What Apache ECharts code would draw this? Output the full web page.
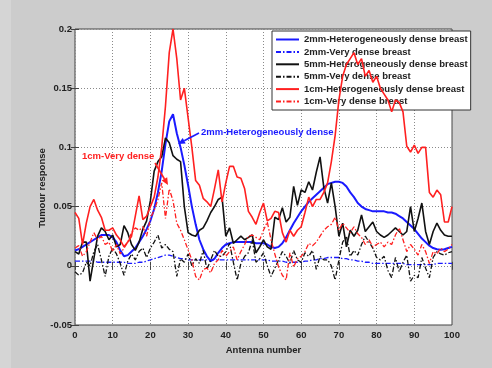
<!DOCTYPE html>
<html>
<head>
<meta charset="utf-8">
<script src="https://cdn.jsdelivr.net/npm/echarts@6/dist/echarts.min.js"></script>
<style>html,body{margin:0;padding:0;background:#cccccc;}#c{width:492px;height:368px;}</style>
</head>
<body>
<div id="c"></div>
<script>
// ---- data ----
const antenna = Array.from({length: 101}, (_, i) => i);
const xTicks = [0, 10, 20, 30, 40, 50, 60, 70, 80, 90, 100];
const yTicks = [-0.05, 0, 0.05, 0.1, 0.15, 0.2];
const seriesNames = [
  '2mm-Heterogeneously dense breast',
  '2mm-Very dense breast',
  '5mm-Heterogeneously dense breast',
  '5mm-Very dense breast',
  '1cm-Heterogeneously dense breast',
  '1cm-Very dense breast'
];
const het2mm = [
  0.013, 0.014, 0.016, 0.018, 0.020, 0.022, 0.024, 0.026, 0.026, 0.026,
  0.024, 0.020, 0.013, 0.008, 0.009, 0.012, 0.015, 0.020, 0.025, 0.031,
  0.038, 0.048, 0.062, 0.080, 0.103, 0.122, 0.128, 0.112, 0.100, 0.085,
  0.068, 0.050, 0.035, 0.022, 0.014, 0.008, 0.004, 0.006, 0.011, 0.015,
  0.018, 0.019, 0.020, 0.020, 0.020, 0.020, 0.020, 0.020, 0.019, 0.019,
  0.019, 0.018, 0.016, 0.015, 0.016, 0.019, 0.024, 0.030, 0.036, 0.041,
  0.046, 0.050, 0.054, 0.057, 0.060, 0.063, 0.066, 0.069, 0.070, 0.071,
  0.071, 0.070, 0.067, 0.062, 0.058, 0.053, 0.050, 0.048, 0.047, 0.046,
  0.046, 0.046, 0.046, 0.045, 0.045, 0.044, 0.042, 0.040, 0.037, 0.034,
  0.031, 0.027, 0.023, 0.020, 0.017, 0.015, 0.014, 0.0135, 0.014, 0.015,
  0.016
];
const vd2mm = [
  0.004, 0.004, 0.004, 0.004, 0.004, 0.004, 0.003, 0.003, 0.003, 0.003,
  0.003, 0.003, 0.003, 0.003, 0.002, 0.002, 0.002, 0.003, 0.003, 0.004,
  0.005, 0.006, 0.007, 0.008, 0.009, 0.009, 0.008, 0.007, 0.006, 0.006,
  0.005, 0.005, 0.005, 0.005, 0.005, 0.005, 0.005, 0.005, 0.005, 0.005,
  0.005, 0.005, 0.005, 0.005, 0.005, 0.005, 0.005, 0.005, 0.005, 0.005,
  0.005, 0.005, 0.004, 0.004, 0.004, 0.004, 0.003, 0.003, 0.003, 0.003,
  0.003, 0.004, 0.004, 0.005, 0.005, 0.006, 0.006, 0.007, 0.007, 0.007,
  0.007, 0.006, 0.006, 0.005, 0.005, 0.004, 0.004, 0.003, 0.003, 0.002,
  0.002, 0.002, 0.002, 0.002, 0.002, 0.002, 0.002, 0.002, 0.001, 0.001,
  0.001, 0.001, 0.001, 0.001, 0.001, 0.001, 0.002, 0.002, 0.002, 0.002,
  0.002
];
const het5mm = [
  0.012, 0.010, 0.020, 0.020, -0.013, 0.006, 0.025, 0.032, 0.029, 0.022,
  0.026, 0.016, 0.018, 0.034, 0.028, 0.018, 0.013, 0.020, 0.031, 0.038,
  0.055, 0.080, 0.088, 0.092, 0.108, 0.104, 0.093, 0.090, 0.088, 0.050,
  0.028, 0.026, 0.025, 0.030, 0.032, 0.038, 0.045, 0.050, 0.056, 0.058,
  0.025, 0.032, 0.019, 0.022, 0.025, 0.022, 0.024, 0.026, 0.011, 0.016,
  0.022, 0.016, 0.014, 0.041, 0.039, 0.049, 0.037, 0.041, 0.067, 0.051,
  0.064, 0.062, 0.071, 0.064, 0.079, 0.092, 0.066, 0.053, 0.070, 0.050,
  0.025, 0.036, 0.016, 0.030, 0.025, 0.030, 0.043, 0.029, 0.033, 0.037,
  0.029, 0.026, 0.024, 0.026, 0.029, 0.032, 0.029, 0.026, 0.029, 0.050,
  0.029, 0.040, 0.053, 0.029, 0.018, 0.029, 0.036, 0.030, 0.026, 0.025,
  0.025
];
const vd5mm = [
  -0.005, -0.008, -0.006, 0.003, 0.000, 0.012, 0.018, 0.005, -0.009, 0.008,
  0.015, 0.010, 0.002, -0.008, 0.004, 0.010, 0.005, 0.012, 0.015, 0.007,
  0.015, 0.020, 0.026, 0.015, 0.018, 0.014, 0.012, -0.009, 0.006, 0.003,
  0.010, 0.000, 0.006, 0.002, 0.013, -0.003, 0.005, 0.013, 0.008, 0.008,
  0.012, 0.019, 0.003, -0.012, 0.002, 0.008, 0.011, 0.022, 0.003, 0.006,
  0.011, 0.000, -0.009, -0.002, 0.005, 0.012, 0.008, 0.002, 0.013, 0.005,
  0.003, 0.011, 0.008, 0.013, -0.003, 0.008, 0.005, 0.005, 0.000, -0.012,
  0.005, 0.020, 0.025, 0.008, 0.013, 0.009, 0.018, 0.025, 0.020, 0.015,
  0.007, 0.005, 0.008, -0.004, -0.010, 0.007, -0.005, 0.003, 0.009, -0.013,
  -0.008, -0.010, 0.007, -0.002, -0.010, 0.007, 0.012, 0.010, 0.009, 0.011,
  0.012
];
const het1cm = [
  0.045, 0.040, 0.018, 0.036, 0.050, 0.056, 0.047, 0.041, 0.030, 0.030,
  0.032, 0.026, 0.022, 0.016, 0.020, 0.025, 0.042, 0.059, 0.039, 0.042,
  0.050, 0.058, 0.075, 0.100, 0.135, 0.180, 0.200, 0.175, 0.140, 0.150,
  0.125, 0.100, 0.072, 0.068, 0.057, 0.054, 0.050, 0.065, 0.081, 0.054,
  0.070, 0.084, 0.084, 0.075, 0.074, 0.065, 0.046, 0.041, 0.035, 0.045,
  0.053, 0.038, 0.040, 0.046, 0.045, 0.028, 0.020, 0.030, 0.025, 0.030,
  0.033, 0.045, 0.058, 0.050, 0.056, 0.056, 0.062, 0.070, 0.088, 0.110,
  0.140, 0.160, 0.170, 0.175, 0.180, 0.170, 0.175, 0.160, 0.165, 0.155,
  0.160, 0.150, 0.145, 0.140, 0.130, 0.140, 0.138, 0.130, 0.101, 0.096,
  0.102, 0.095, 0.100, 0.100, 0.062, 0.058, 0.064, 0.060, 0.037, 0.037,
  0.050
];
const vd1cm = [
  0.015, 0.017, 0.008, 0.012, 0.020, 0.028, 0.022, 0.025, 0.018, 0.020,
  0.012, 0.018, 0.010, 0.015, 0.020, 0.028, 0.032, 0.030, 0.033, 0.025,
  0.040, 0.047, 0.056, 0.070, 0.040, 0.065, 0.055, 0.036, 0.030, 0.022,
  0.0135, 0.005, -0.009, -0.012, -0.003, -0.002, -0.006, 0.002, 0.005, 0.013,
  0.008, 0.012, 0.016, 0.005, 0.012, 0.018, 0.025, 0.026, 0.024, 0.022,
  0.030, 0.037, 0.022, 0.010, -0.001, -0.008, -0.012, 0.011, -0.001, 0.006,
  0.008, 0.012, 0.019, 0.017, 0.020, 0.025, 0.030, 0.033, 0.035, 0.041,
  0.030, 0.036, 0.032, 0.028, 0.033, 0.027, 0.024, 0.018, 0.022, 0.016,
  0.018, 0.020, 0.016, 0.020, 0.018, 0.026, 0.032, 0.022, 0.012, 0.018,
  0.014, 0.009, 0.018, 0.012, 0.002, 0.012, 0.010, 0.015, 0.012, 0.014,
  0.018
];
const annotationTexts = ['1cm-Very dense', '2mm-Heterogeneously dense'];

// ---- chart ----
const FONT = 'Liberation Sans, Arial, sans-serif';
const chart = echarts.init(document.getElementById('c'), null, {renderer: 'canvas'});
const pairs = arr => antenna.map((a, i) => [a, arr[i]]);
const dashDot = [5, 2, 1.5, 2];
const seriesDefs = [
  {data: het2mm, color: '#1a1aff', width: 2, type: 'solid'},
  {data: vd2mm, color: '#1a1aff', width: 1.3, type: dashDot},
  {data: het5mm, color: '#111111', width: 1.6, type: 'solid'},
  {data: vd5mm, color: '#111111', width: 1.3, type: dashDot},
  {data: het1cm, color: '#ff2020', width: 1.6, type: 'solid'},
  {data: vd1cm, color: '#ff2020', width: 1.3, type: dashDot}
];
const axisTextStyle = {color: '#222', fontSize: 9.5, fontWeight: 'bold', fontFamily: FONT};

function arrow(x1, y1, x2, y2, color) {
  const dx = x2 - x1, dy = y2 - y1, L = Math.hypot(dx, dy);
  const ux = dx / L, uy = dy / L, hl = 7, hw = 3.2;
  const bx = x2 - ux * hl, by = y2 - uy * hl;
  return [
    {type: 'line', z: 10, shape: {x1: x1, y1: y1, x2: bx, y2: by}, style: {stroke: color, lineWidth: 1.6}},
    {type: 'polygon', z: 10, shape: {points: [[x2, y2], [bx - uy * hw, by + ux * hw], [bx + uy * hw, by - ux * hw]]}, style: {fill: color}}
  ];
}

const option = {
  backgroundColor: '#cccccc',
  animation: false,
  grid: {left: 75, right: 40, top: 29, bottom: 43, show: true, backgroundColor: '#ffffff', borderColor: '#444', borderWidth: 1, containLabel: false},
  legend: {
    orient: 'vertical', left: 272, top: 31,
    backgroundColor: '#ffffff', borderColor: '#333', borderWidth: 1, borderRadius: 0,
    padding: [3, 3, 3, 3], itemWidth: 23, itemHeight: 8, itemGap: 1.4,
    itemStyle: {opacity: 0},
    textStyle: {fontSize: 9.5, fontWeight: 'bold', color: '#222', fontFamily: FONT, lineHeight: 11},
    data: seriesNames
  },
  xAxis: [
    {type: 'value', min: 0, max: 100, interval: 10, position: 'bottom',
     name: 'Antenna number', nameLocation: 'middle', nameGap: 10,
     nameTextStyle: axisTextStyle,
     axisLine: {show: false}, axisTick: {show: true, inside: true, length: 4, lineStyle: {color: '#444'}},
     axisLabel: Object.assign({margin: 5, formatter: v => xTicks.includes(v) ? String(v) : ''}, axisTextStyle),
     splitLine: {show: true, lineStyle: {color: '#8a8a8a', type: [1, 2], width: 1}}},
    {type: 'value', min: 0, max: 100, interval: 10, position: 'top',
     axisLine: {show: false}, axisTick: {show: true, inside: true, length: 4, lineStyle: {color: '#444'}},
     axisLabel: {show: false}, splitLine: {show: false}}
  ],
  yAxis: [
    {type: 'value', min: -0.05, max: 0.2, interval: 0.05, position: 'left',
     axisLine: {show: false}, axisTick: {show: true, inside: true, length: 4, lineStyle: {color: '#444'}},
     axisLabel: Object.assign({margin: 3, formatter: v => {
       const t = yTicks.find(k => Math.abs(k - v) < 1e-9);
       return t === undefined ? '' : String(t);
     }}, axisTextStyle),
     splitLine: {show: true, lineStyle: {color: '#8a8a8a', type: [1, 2], width: 1}}},
    {type: 'value', min: -0.05, max: 0.2, interval: 0.05, position: 'right',
     axisLine: {show: false}, axisTick: {show: true, inside: true, length: 4, lineStyle: {color: '#444'}},
     axisLabel: {show: false}, splitLine: {show: false}}
  ],
  series: seriesDefs.map((d, i) => ({
    name: seriesNames[i], type: 'line', xAxisIndex: 0, yAxisIndex: 0,
    data: pairs(d.data), symbol: 'none', clip: true,
    lineStyle: {color: d.color, width: d.width, type: d.type},
    itemStyle: {color: d.color},
    z: 2 + i
  })),
  graphic: [
    {type: 'rect', shape: {x: 0, y: 0, width: 11, height: 368}, style: {fill: '#d5d5d5'}, z: -1},
    {type: 'text', x: 42, y: 188, rotation: Math.PI / 2,
     style: {text: 'Tumour response', fill: '#222', font: 'bold 9.5px ' + FONT, textAlign: 'center', textVerticalAlign: 'middle'}},
    {type: 'text', x: 82, y: 156, z: 10,
     style: {text: annotationTexts[0], fill: '#ff2020', font: 'bold 9.5px ' + FONT, textAlign: 'left', textVerticalAlign: 'middle'}},
    {type: 'text', x: 201, y: 132, z: 10,
     style: {text: annotationTexts[1], fill: '#1a1aff', font: 'bold 9.5px ' + FONT, textAlign: 'left', textVerticalAlign: 'middle'}}
  ].concat(arrow(155, 163, 168, 185, '#ff2020'), arrow(199, 133, 178, 144, '#1a1aff'))
};
chart.setOption(option);
</script>
</body>
</html>
